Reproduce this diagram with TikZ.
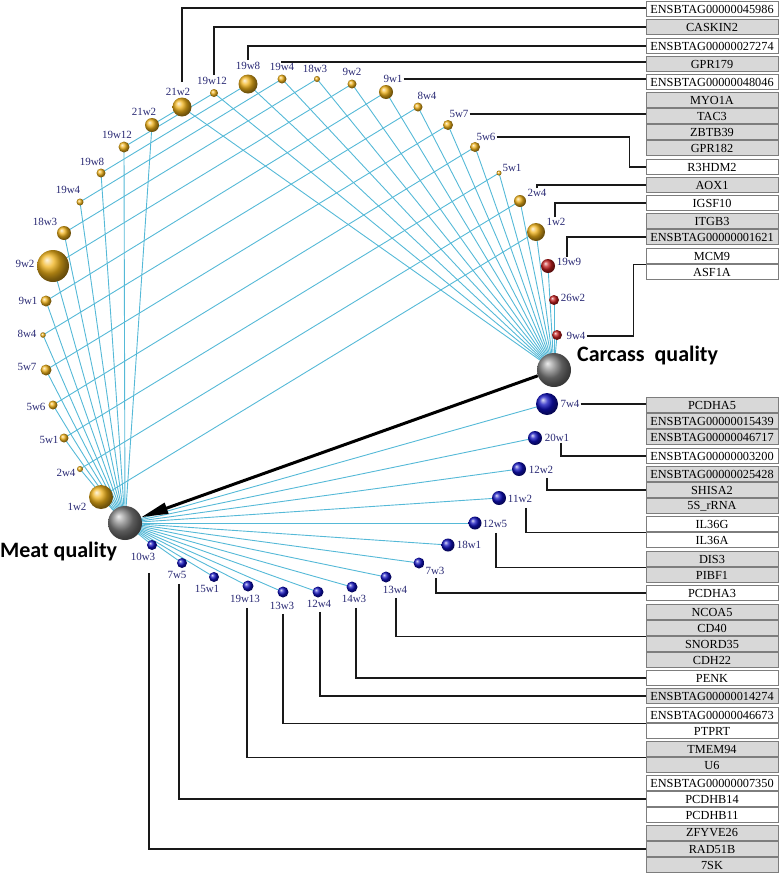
\documentclass[tikz,border=0pt]{standalone}
\usepackage{fontspec}
\setmainfont{Liberation Serif}
\newfontfamily\carl{Carlito}
\usetikzlibrary{arrows.meta}
\definecolor{goldc}{RGB}{240,178,25}
\definecolor{bluec}{RGB}{15,15,190}
\definecolor{redc}{RGB}{195,30,30}
\definecolor{grayc}{RGB}{130,130,130}
\definecolor{linec}{RGB}{85,185,215}
\definecolor{navy}{RGB}{40,40,115}
\definecolor{boxgray}{RGB}{216,216,216}
\definecolor{boxline}{RGB}{125,125,125}
\tikzset{
  cyanline/.style={draw=linec, line width=0.9pt},
  sph/.style={circle, inner sep=0pt, shading=ball},
  lbl/.style={inner sep=1pt, text=navy, font=\fontsize{11}{13}\selectfont},
  genebox/.style={draw=boxline, line width=0.9pt, minimum width=132pt, minimum height=15.8pt, inner sep=0pt, font=\fontsize{12.3}{14}\selectfont},
  leader/.style={draw=black!90, line width=1.6pt},
  title/.style={inner sep=0pt, font=\carl\bfseries\fontsize{22}{26}\selectfont, anchor=west}
}
\begin{document}
\begin{tikzpicture}[x=1pt,y=-1pt]
\useasboundingbox (0,0) rectangle (780,873);
% sphere centres
\foreach \n/\x/\y in {21w2T/182/107, 19w12T/214/93, 19w8T/248/84, 19w4T/282/79, 18w3T/317/79, 9w2T/352/84, 9w1T/386/92, 8w4T/418/107, 5w7T/448/125, 5w6T/475/147, 5w1T/499/173, 2w4T/520/201, 1w2T/536/232,
  19w9/548/266, 26w2/554/300, 9w4/557/335,
  21w2L/152/125, 19w12L/124/147, 19w8L/101/173, 19w4L/80/202, 18w3L/64/233, 9w2L/53/266, 9w1L/46/301, 8w4L/43/335, 5w7L/46/370, 5w6L/53/405, 5w1L/64/438, 2w4L/80/469, 1w2L/101/497,
  7w4/547/404, 20w1/535/438, 12w2/519/469, 11w2/499/498, 12w5/475/523, 18w1/448/545, 7w3/419/563, 13w4/386/577, 14w3/352/587, 12w4/318/592, 13w3/283/592, 19w13/248/586, 15w1/214/577, 7w5/182/563, 10w3/152/545,
  carc/554/370, meat/125/523}
  \coordinate (c\n) at (\x,\y);
% links
\foreach \n in {21w2T,19w12T,19w8T,19w4T,18w3T,9w2T,9w1T,8w4T,5w7T,5w6T,5w1T,2w4T,1w2T,19w9,26w2,9w4}
  \draw[cyanline] (ccarc) -- (c\n);
\foreach \n in {21w2L,19w12L,19w8L,19w4L,18w3L,9w2L,9w1L,8w4L,5w7L,5w6L,5w1L,2w4L,1w2L,7w4,20w1,12w2,11w2,12w5,18w1,7w3,13w4,14w3,12w4,13w3,19w13,15w1,7w5,10w3}
  \draw[cyanline] (cmeat) -- (c\n);
\foreach \n in {21w2,19w12,19w8,19w4,18w3,9w2,9w1,8w4,5w7,5w6,5w1,2w4,1w2}
  \draw[cyanline] (c\n L) -- (c\n T);
% spheres
\foreach \n/\d/\c in {21w2T/19/goldc, 19w12T/8/goldc, 19w8T/19/goldc, 19w4T/9/goldc, 18w3T/6/goldc, 9w2T/9/goldc, 9w1T/14/goldc, 8w4T/9/goldc, 5w7T/10/goldc, 5w6T/10/goldc, 5w1T/5/goldc, 2w4T/12/goldc, 1w2T/18/goldc,
  19w9/14/redc, 26w2/10/redc, 9w4/10/redc,
  21w2L/14/goldc, 19w12L/11/goldc, 19w8L/9/goldc, 19w4L/7/goldc, 18w3L/14/goldc, 9w2L/32/goldc, 9w1L/11/goldc, 8w4L/5.5/goldc, 5w7L/11/goldc, 5w6L/9/goldc, 5w1L/9/goldc, 2w4L/6/goldc, 1w2L/24/goldc,
  7w4/22/bluec, 20w1/14/bluec, 12w2/14/bluec, 11w2/14/bluec, 12w5/13/bluec, 18w1/13/bluec, 7w3/11/bluec, 13w4/11/bluec, 14w3/11/bluec, 12w4/11/bluec, 13w3/11/bluec, 19w13/11/bluec, 15w1/10/bluec, 7w5/10/bluec, 10w3/10/bluec,
  carc/34/grayc, meat/34/grayc}
  \node[sph, ball color=\c, minimum size=\d pt] (s\n) at (c\n) {};
% main arrow
\draw[line width=3pt, -{Triangle[length=27pt,width=11pt]}] (scarc) -- (smeat);
% titles
\node[title] (tmeat) at (0,552) {Meat quality};
\node[title] (tcarc) at (577,356) {Carcass~~quality};
% labels
\foreach \n/\t/\x/\y in {21w2T/21w2/178/92, 19w12T/19w12/212/81, 19w8T/19w8/248/66, 19w4T/19w4/282/67, 18w3T/18w3/315/69, 9w2T/9w2/352/72, 9w1T/9w1/393/79, 8w4T/8w4/427/96, 5w7T/5w7/459/114, 5w6T/5w6/486/137, 5w1T/5w1/512/168, 2w4T/2w4/537/193, 1w2T/1w2/556/222,
  19w9/19w9/569/262, 26w2/26w2/573/298, 9w4/9w4/576/336,
  21w2L/21w2/144/112, 19w12L/19w12/117/135, 19w8L/19w8/92/162, 19w4L/19w4/68/190, 18w3L/18w3/45/222, 9w2L/9w2/25/264, 9w1L/9w1/28/301, 8w4L/8w4/27/334, 5w7L/5w7/27/367, 5w6L/5w6/36/407, 5w1L/5w1/49/440, 2w4L/2w4/66/473, 1w2L/1w2/77/507,
  7w4/7w4/570/404, 20w1/20w1/557/438, 12w2/12w2/541/470, 11w2/11w2/520/499, 12w5/12w5/495/524, 18w1/18w1/469/545, 7w3/7w3/435/571, 13w4/13w4/395/590, 14w3/14w3/354/599, 12w4/12w4/319/604, 13w3/13w3/282/606, 19w13/19w13/245/599, 15w1/15w1/207/589, 7w5/7w5/177/575, 10w3/10w3/143/557}
  \node[lbl] (l\n) at (\x,\y) {\t};
% gene boxes
\foreach \i/\y/\f/\t in {1/9/white/ENSBTAG00000045986, 2/27/boxgray/CASKIN2, 3/46/white/ENSBTAG00000027274, 4/64/boxgray/GPR179, 5/82/white/ENSBTAG00000048046,
  6/100/boxgray/MYO1A, 7/116/boxgray/TAC3, 8/132/boxgray/ZBTB39, 9/148/boxgray/GPR182, 10/167/white/R3HDM2, 11/185/boxgray/AOX1, 12/203/white/IGSF10,
  13/221/boxgray/ITGB3, 14/237/boxgray/ENSBTAG00000001621, 15/256/white/MCM9, 16/272/white/ASF1A,
  17/405/boxgray/PCDHA5, 18/421/boxgray/ENSBTAG00000015439, 19/437/boxgray/ENSBTAG00000046717, 20/456/white/ENSBTAG00000003200,
  21/474/boxgray/ENSBTAG00000025428, 22/490/boxgray/SHISA2, 23/506/boxgray/5S\_rRNA, 24/524/white/IL36G, 25/540/white/IL36A,
  26/559/boxgray/DIS3, 27/575/boxgray/PIBF1, 28/593/white/PCDHA3, 29/612/boxgray/NCOA5, 30/628/boxgray/CD40, 31/644/boxgray/SNORD35, 32/660/boxgray/CDH22,
  33/678/white/PENK, 34/696/boxgray/ENSBTAG00000014274, 35/715/white/ENSBTAG00000046673, 36/731/white/PTPRT, 37/749/boxgray/TMEM94, 38/765/boxgray/U6,
  39/783/white/ENSBTAG00000007350, 40/799/white/PCDHB14, 41/815/white/PCDHB11, 42/833/boxgray/ZFYVE26, 43/849/boxgray/RAD51B, 44/865/boxgray/7SK}
  \node[genebox, fill=\f] (g\i) at (712,\y) {\t};
% leaders (top)
\draw[leader] ([xshift=4pt,yshift=5pt]l21w2T.north) |- ([yshift=1pt]g1.west);
\draw[leader] ([xshift=2pt,yshift=1pt]l19w12T.north) |- (g2.west);
\draw[leader] ([yshift=1pt]l19w8T.north) |- (g3.west);
\draw[leader] (l19w4T.north) |- ([yshift=2pt]g4.west);
\draw[leader] (l9w1T.east) -- (l9w1T.east -| g5.west);
\draw[leader] (l5w7T.east) -- (l5w7T.east -| g6.west);
\draw[leader] (l5w6T.east) -- ++(133,0) |- (g10.west);
\draw[leader] (l2w4T.north) |- (g11.west);
\draw[leader] ([xshift=-1pt]l1w2T.north) |- (g12.west);
\draw[leader] ([xshift=-2pt]l19w9.north) |- (g14.west);
\draw[leader] (l9w4.east) -- ++(47,0) |- (g15.south west);
% leaders (bottom)
\draw[leader] (l7w4.east) -- (l7w4.east -| g17.west);
\draw[leader] ([xshift=4pt]l20w1.south) |- (g20.west);
\draw[leader] ([xshift=6pt,yshift=-3pt]l12w2.south) |- (g22.west);
\draw[leader] ([xshift=6pt,yshift=-4pt]l11w2.south) |- (g24.south west);
\draw[leader] ([xshift=1pt,yshift=-4pt]l12w5.south) |- (g26.south west);
\draw[leader] ([xshift=1pt,yshift=-2pt]l7w3.south) |- (g28.west);
\draw[leader] ([xshift=1pt,yshift=-3pt]l13w4.south) |- (g30.south west);
\draw[leader] ([xshift=2pt,yshift=-4pt]l14w3.south) |- (g33.west);
\draw[leader] ([xshift=1pt,yshift=-3pt]l12w4.south) |- (g34.west);
\draw[leader] ([xshift=1pt,yshift=-3pt]l13w3.south) |- (g35.south west);
\draw[leader] ([xshift=2pt,yshift=-4pt]l19w13.south) |- (g37.south west);
\draw[leader] ([xshift=2pt,yshift=-4pt]l7w5.south) |- (g40.west);
\draw[leader] ([xshift=6pt,yshift=-11pt]l10w3.south) |- (g43.west);
\end{tikzpicture}
\end{document}
